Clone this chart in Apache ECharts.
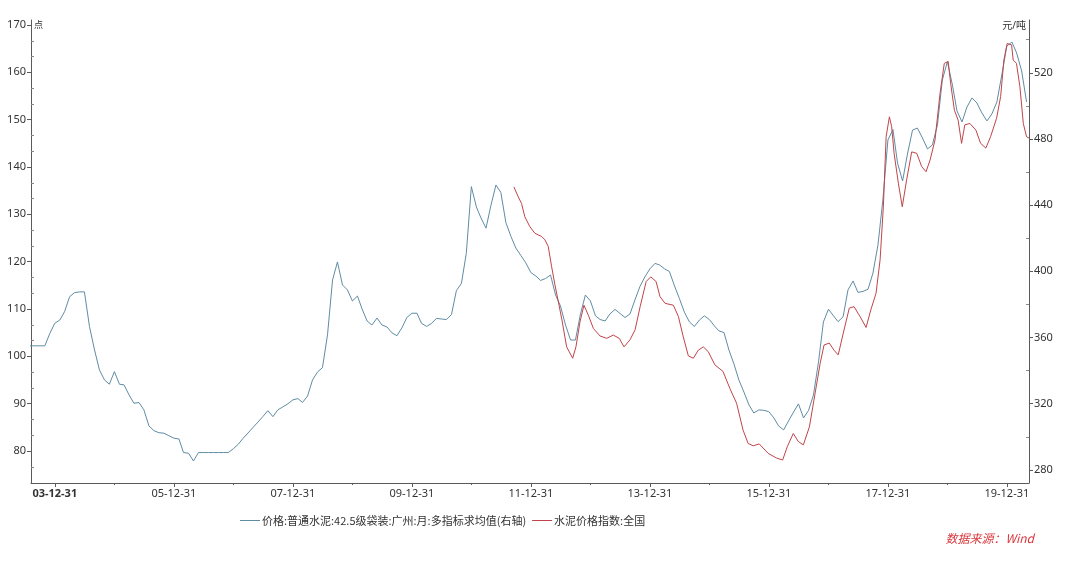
<!DOCTYPE html>
<html><head><meta charset="utf-8">
<script src="https://cdn.jsdelivr.net/npm/echarts@6/dist/echarts.min.js"></script>
<style>html,body{margin:0;padding:0;background:#fff}#c{width:1080px;height:576px}</style>
</head><body><div id="c"></div>
<script>
// ---- data ----
const seriesNames = ['价格:普通水泥:42.5级袋装:广州:月:多指标求均值(右轴)', '水泥价格指数:全国'];
const leftUnit = '点';
const rightUnit = '元/吨';
const sourceText = '数据来源：Wind';

// Blue series: monthly (month-end) values, starting at blueStartMonth, right axis (元/吨)
const blueStartMonth = '2003-07';
const blueValues = [
  355, 355, 355, 355, 362.4, 368.6,                                                   // 2003-07..12
  370.6, 375.6, 384.7, 387.1, 387.6, 387.6, 366.6, 352.5, 340.4, 334.4, 331.8, 339.4, // 2004
  331.8, 331.4, 325.3, 320.3, 320.7, 316.3, 306.6, 303.7, 302.5, 302.2, 300.7, 299.2, // 2005
  298.7, 290.5, 290.1, 285.4, 290.5, 290.5, 290.5, 290.5, 290.5, 290.5, 290.5, 292.8, // 2006
  295.6, 299.0, 302.3, 305.6, 308.9, 312.2, 315.8, 312.2, 316.3, 318.1, 319.9, 322.3, // 2007
  323.1, 320.8, 324.7, 334.4, 339.2, 341.8, 361.6, 394.8, 405.7, 391.8, 388.8, 382.1, // 2008
  385.1, 377.3, 370.0, 367.6, 371.8, 367.6, 366.4, 362.8, 361.1, 365.9, 372.1, 374.7, // 2009
  374.7, 368.6, 366.7, 368.5, 371.6, 371.2, 370.9, 373.9, 388.3, 392.7, 410.9, 451.2, // 2010
  438.9, 432.3, 426.1, 439.8, 452.2, 447.7, 429.5, 421.1, 414.1, 409.6, 405.2, 399.3, // 2011
  397.2, 394.5, 395.7, 397.8, 385.7, 379.1, 367.6, 358.5, 358.5, 374.3, 385.7, 382.1, // 2012
  373.1, 370.9, 370.0, 374.3, 377.0, 374.6, 372.1, 374.3, 382.7, 390.9, 396.6, 401.5, // 2013
  404.8, 403.9, 401.5, 399.9, 391.2, 383.6, 375.2, 369.4, 366.7, 370.6, 373.1, 370.9, // 2014
  367.0, 364.0, 363.0, 352.5, 344.0, 334.4, 327.1, 319.3, 314.4, 316.3, 316.0, 315.2, // 2015
  311.4, 306.6, 304.2, 309.6, 315.0, 319.9, 311.4, 316.0, 325.3, 345.3, 369.4, 377.1, // 2016
  373.1, 369.6, 372.6, 388.8, 394.2, 387.3, 387.9, 389.2, 398.9, 416.0, 443.1, 479.4, // 2017
  485.7, 465.5, 454.6, 470.9, 485.4, 486.6, 480.6, 474.0, 476.4, 488.5, 515.6, 526.7, // 2018
  512.6, 496.9, 490.3, 499.3, 504.8, 501.8, 495.7, 490.9, 495.1, 502.4, 518.7, 536.2, // 2019
  538.6, 532.0, 521.1, 502.4                                                          // 2020-01..04
];

// Red series: national cement price index (left axis, 点)
const redDates = [
  '2011-09-18','2011-10-15','2011-11-04','2011-11-24','2011-12-25',
  '2012-01-25','2012-03-07','2012-03-27','2012-04-16','2012-05-07','2012-05-27','2012-06-15','2012-07-09','2012-08-07','2012-09-13','2012-10-03','2012-10-28','2012-11-21','2012-12-18',
  '2013-01-18','2013-02-28','2013-04-10','2013-05-20','2013-06-26','2013-07-25','2013-08-31','2013-10-01','2013-11-01','2013-12-08',
  '2014-01-05','2014-02-07','2014-03-03','2014-04-03','2014-05-24','2014-06-24','2014-07-24','2014-08-24','2014-09-24','2014-10-24','2014-11-24','2014-12-24',
  '2015-02-03','2015-03-25','2015-05-06','2015-06-16','2015-07-26','2015-08-26','2015-09-26','2015-11-02','2015-12-27',
  '2016-02-17','2016-03-25','2016-04-22','2016-05-29','2016-06-29','2016-07-30','2016-09-05','2016-10-10','2016-11-10','2016-12-04',
  '2017-01-05','2017-02-03','2017-03-01','2017-04-01','2017-05-08','2017-06-06','2017-07-13','2017-08-19','2017-09-17','2017-10-19','2017-11-13','2017-12-03','2017-12-20',
  '2018-01-09','2018-01-23','2018-02-07','2018-03-05','2018-03-29','2018-04-25','2018-05-26','2018-06-26','2018-07-26','2018-08-22','2018-09-16','2018-10-16','2018-11-16','2018-12-12',
  '2019-01-05','2019-01-20','2019-02-12','2019-03-07','2019-03-28','2019-04-17','2019-05-18','2019-06-24','2019-07-23','2019-08-24','2019-09-22','2019-10-29','2019-11-23','2019-12-13',
  '2020-01-02','2020-01-29','2020-02-08','2020-02-28','2020-03-20','2020-04-10','2020-04-30','2020-05-16'
];
const redValues = [
  135.8, 133.7, 132.3, 129.5, 127.4,
  126.0, 125.3, 124.6, 123.2, 118.9, 115.1, 111.9, 107.7, 102.0, 99.6, 102.0, 107.3, 110.8, 108.7,
  105.9, 104.3, 103.8, 104.5, 103.8, 102.0, 103.5, 105.6, 110.5, 115.8,
  116.8, 115.8, 112.6, 111.2, 110.8, 108.4, 104.1, 100.1, 99.6, 101.3, 102.0, 101.0,
  98.2, 96.8, 93.2, 90.1, 84.4, 81.6, 81.1, 81.5, 79.5,
  78.5, 78.1, 80.9, 83.7, 82.0, 81.3, 85.1, 92.2, 98.5, 102.4,
  102.8, 101.3, 100.3, 104.9, 110.2, 110.5, 108.4, 106.1, 109.8, 113.3, 120.4, 131.6, 146.4,
  150.6, 148.5, 142.9, 136.6, 131.6, 137.3, 143.2, 142.9, 140.1, 139.0, 141.5, 145.7, 155.6, 161.9,
  162.3, 157.7, 152.0, 149.9, 145.0, 148.9, 149.2, 147.8, 145.0, 144.0, 146.4, 150.3, 154.9, 162.6,
  166.1, 165.8, 162.6, 161.9, 157.0, 149.2, 146.4, 146.1
];

const xTickLabels = ['03-12-31','05-12-31','07-12-31','09-12-31','11-12-31','13-12-31','15-12-31','17-12-31','19-12-31'];
const xMinorTickLabels = ['04-12-31','06-12-31','08-12-31','10-12-31','12-12-31','14-12-31','16-12-31','18-12-31'];
const leftTicks = [80, 90, 100, 110, 120, 130, 140, 150, 160, 170];
const rightTicks = [280, 320, 360, 400, 440, 480, 520];
const rightMinorTicks = [300, 340, 380, 420, 460, 500, 540];
const xRange = ['2003-08-07', '2020-05-15'];
const leftRange = [73.24, 171.06];
const rightRange = [272.1, 551.9];

// ---- build ----
function ymdToTs(s) { const p = s.split('-').map(Number); return Date.UTC(p[0], p[1] - 1, p[2]); }
function shortToTs(s) { const p = s.split('-').map(Number); return Date.UTC(2000 + p[0], p[1] - 1, p[2]); }
function tsToShort(v) {
  const d = new Date(v);
  const pad = n => String(n).padStart(2, '0');
  return pad(d.getUTCFullYear() % 100) + '-' + pad(d.getUTCMonth() + 1) + '-' + pad(d.getUTCDate());
}
const sp = blueStartMonth.split('-').map(Number);
const blueData = blueValues.map((v, i) => [Date.UTC(sp[0], sp[1] + i, 0), v]); // month-end
const redData = redDates.map((d, i) => [ymdToTs(d), redValues[i]]);

const xMajor = xTickLabels.map(shortToTs);
const xMinor = xMinorTickLabels.map(shortToTs);
const leftMinor = [];
[70].concat(leftTicks).forEach(t => { [t + 10 / 3, t + 20 / 3].forEach(m => { if (m > leftRange[0] + 0.5 && m < leftRange[1]) leftMinor.push(m); }); });

const axisColor = '#5a5a5a';
const labelColor = '#333';
const font = "'Noto Sans', 'Noto Sans CJK SC', sans-serif";
const blueColor = '#5f8ca3';
const redColor = '#c0444a';

const chart = echarts.init(document.getElementById('c'), null, { renderer: 'canvas' });
chart.setOption({
  animation: false,
  backgroundColor: '#fff',
  textStyle: { fontFamily: font },
  grid: { left: 31, right: 51, top: 20, bottom: 93 },
  title: [{
    text: sourceText, right: 41, top: 527,
    textStyle: { fontSize: 12, fontStyle: 'italic', fontWeight: 'normal', color: '#d9383e', fontFamily: "'Noto Sans CJK SC', sans-serif" }
  }],
  legend: {
    data: seriesNames, left: 235, top: 510, icon: 'rect', itemWidth: 20, itemHeight: 1, itemGap: 6,
    textStyle: { fontSize: 11, color: labelColor, fontFamily: "'Noto Sans CJK SC', sans-serif", padding: [0, 0, 0, -3] }
  },
  xAxis: [{
    type: 'value', min: ymdToTs(xRange[0]), max: ymdToTs(xRange[1]),
    axisLine: { show: true, lineStyle: { color: axisColor, width: 1 } },
    axisTick: { show: true, length: 4, customValues: xMajor, lineStyle: { color: axisColor } },
    axisLabel: {
      customValues: xMajor, margin: 5, fontSize: 11, color: labelColor,
      formatter: v => (Math.abs(v - xMajor[0]) < 1000 ? '{b|' + tsToShort(v) + '}' : tsToShort(v)),
      rich: { b: { fontWeight: 'bold', fontSize: 11, color: labelColor } }
    },
    splitLine: { show: false }
  }, {
    type: 'value', min: ymdToTs(xRange[0]), max: ymdToTs(xRange[1]), position: 'bottom',
    axisLine: { show: false },
    axisTick: { show: true, length: 2, customValues: xMinor, lineStyle: { color: axisColor } },
    axisLabel: { show: false }, splitLine: { show: false }
  }],
  yAxis: [{
    type: 'value', position: 'left', min: leftRange[0], max: leftRange[1],
    name: leftUnit, nameLocation: 'end', nameGap: -1,
    nameTextStyle: { align: 'left', verticalAlign: 'top', fontSize: 9, color: labelColor, padding: [0, 0, 0, 3] },
    axisLine: { show: true, lineStyle: { color: axisColor, width: 1 } },
    axisTick: { show: true, length: 4, customValues: leftTicks, lineStyle: { color: axisColor } },
    axisLabel: { customValues: leftTicks, margin: 5, fontSize: 11, color: labelColor },
    splitLine: { show: false }
  }, {
    type: 'value', position: 'right', min: rightRange[0], max: rightRange[1],
    name: rightUnit, nameLocation: 'end', nameGap: -1,
    nameTextStyle: { align: 'right', verticalAlign: 'top', fontSize: 10, color: labelColor, padding: [0, 3, 0, 0] },
    axisLine: { show: true, lineStyle: { color: axisColor, width: 1 } },
    axisTick: { show: true, length: 4, customValues: rightTicks, lineStyle: { color: axisColor } },
    axisLabel: { customValues: rightTicks, margin: 5, fontSize: 11, color: labelColor },
    splitLine: { show: false }
  }, {
    type: 'value', position: 'left', min: leftRange[0], max: leftRange[1],
    axisLine: { show: false },
    axisTick: { show: true, inside: true, length: 3, customValues: leftMinor, lineStyle: { color: '#888' } },
    axisLabel: { show: false }, splitLine: { show: false }
  }, {
    type: 'value', position: 'right', min: rightRange[0], max: rightRange[1],
    axisLine: { show: false },
    axisTick: { show: true, inside: true, length: 3, customValues: rightMinorTicks, lineStyle: { color: '#888' } },
    axisLabel: { show: false }, splitLine: { show: false }
  }],
  series: [{
    name: seriesNames[0], type: 'line', xAxisIndex: 0, yAxisIndex: 1,
    data: blueData, symbol: 'none', smooth: false,
    lineStyle: { color: blueColor, width: 1 }, itemStyle: { color: blueColor }
  }, {
    name: seriesNames[1], type: 'line', xAxisIndex: 0, yAxisIndex: 0,
    data: redData, symbol: 'none', smooth: false,
    lineStyle: { color: redColor, width: 1 }, itemStyle: { color: redColor }
  }]
});
</script>
</body></html>
